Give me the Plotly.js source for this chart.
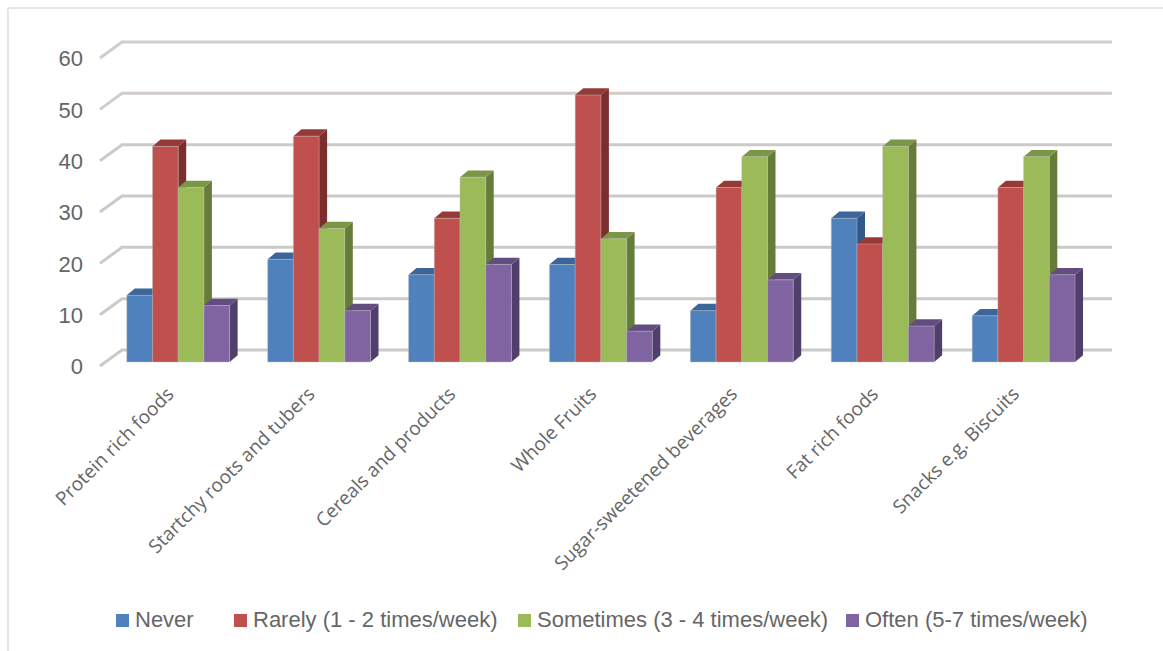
<!DOCTYPE html>
<html>
<head>
<meta charset="utf-8">
<script src="https://cdn.plot.ly/plotly-3.0.1.min.js"></script>
<style>html,body{margin:0;padding:0;background:#fff;overflow:hidden}</style>
</head>
<body>
<div id="chart" style="width:1163px;height:651px"></div>
<script>
// Food consumption frequency per food group
const categories = ['Protein rich foods', 'Startchy roots and tubers', 'Cereals and products', 'Whole Fruits',
  'Sugar-sweetened beverages', 'Fat rich foods', 'Snacks e.g. Biscuits'];
const seriesNames = ['Never', 'Rarely (1 - 2 times/week)', 'Sometimes (3 - 4 times/week)', 'Often (5-7 times/week)'];
const never = [13, 20, 17, 19, 10, 28, 9];
const rarely = [42, 44, 28, 52, 34, 23, 34];
const sometimes = [34, 26, 36, 24, 40, 42, 40];
const often = [11, 10, 19, 6, 16, 7, 17];
const yTicks = [0, 10, 20, 30, 40, 50, 60];

const frontColors = ['#4F81BD', '#C0504D', '#9BBB59', '#8064A2'];
const topColors = ['#3C659A', '#943A37', '#7C9648', '#634D80'];
const sideColors = ['#33598A', '#7A2F2D', '#667D3A', '#513F6B'];

const W = 1163, H = 651;
const plot = {l: 90, r: 1120, t: 30, b: 375};
const pxPerCat = 140.9, cat0Px = 178.2;     // horizontal scale of the category axis
const pxPerUnit = 5.133, zeroPx = 362;      // vertical scale of the value axis
const xRange = [(plot.l - cat0Px) / pxPerCat, (plot.r - cat0Px) / pxPerCat];
const yRange = [(zeroPx - plot.b) / pxPerUnit, (zeroPx - plot.t) / pxPerUnit];
const xUnits = px => px / pxPerCat;
const yUnits = px => px / pxPerUnit;

const bargap = 0.27;
const barW = (1 - bargap) / 4;
const depthX = xUnits(8), depthY = yUnits(6.8);  // extrusion of each column
const allSeries = [never, rarely, sometimes, often];

// Paper-space helpers for the frame and the legend row
const px = x => (x - plot.l) / (plot.r - plot.l);
const py = y => (plot.b - y) / (plot.b - plot.t);

const shapes = [];
const poly = (pts, color) => shapes.push({
  type: 'path', xref: 'x', yref: 'y', layer: 'below',
  path: 'M' + pts.map(p => p[0] + ',' + p[1]).join('L') + 'Z',
  fillcolor: color, line: {width: 0}
});

// Frame on the top and left edges
[[8, 8, W, 8], [8, 8, 8, H]].forEach(s => shapes.push({
  type: 'line', xref: 'paper', yref: 'paper', layer: 'below',
  x0: px(s[0]), y0: py(s[1]), x1: px(s[2]), y1: py(s[3]),
  line: {color: '#e6e6e6', width: 2}
}));

// Back-wall gridlines with the slanted stub leading to each tick label
const wallY = yUnits(12), stubDrop = yUnits(4);
const wallLeft = xRange[0] + xUnits(122 - plot.l), wallRight = xRange[0] + xUnits(1112 - plot.l);
const stubLeft = xRange[0] + xUnits(100 - plot.l);
yTicks.forEach((v, k) => {
  const color = k >= 5 ? '#d2cccb' : '#cacac8';
  shapes.push({
    type: 'path', xref: 'x', yref: 'y', layer: 'below',
    path: `M${stubLeft},${v - stubDrop}L${wallLeft},${v + wallY}L${wallRight},${v + wallY}`,
    line: {color, width: 3}, fillcolor: 'rgba(0,0,0,0)'
  });
});

// Column sides and tops, series by series, behind the front faces
allSeries.forEach((values, j) => {
  values.forEach((v, i) => {
    const left = i + (j - 2) * barW, right = left + barW;
    poly([[right, 0], [right + depthX, depthY], [right + depthX, v + depthY], [right, v]], sideColors[j]);
    poly([[left, v], [left + depthX, v + depthY], [right + depthX, v + depthY], [right, v]], topColors[j]);
  });
});

// Legend row
const legendSwatchX = [116, 234, 518, 846];
const annotations = seriesNames.map((name, j) => {
  shapes.push({
    type: 'rect', xref: 'paper', yref: 'paper', layer: 'above',
    x0: px(legendSwatchX[j]), x1: px(legendSwatchX[j] + 13), y0: py(627), y1: py(614),
    fillcolor: frontColors[j], line: {width: 0}
  });
  return {
    text: name, xref: 'paper', yref: 'paper', showarrow: false,
    x: px(legendSwatchX[j] + 18.5), y: py(619.5), xanchor: 'left', yanchor: 'middle',
    borderpad: 0, borderwidth: 0,
    font: {family: '"Liberation Sans", Arial, sans-serif', size: 22, color: '#666666'}
  };
});

const traces = allSeries.map((values, j) => ({
  type: 'bar', name: seriesNames[j], x: categories, y: values,
  marker: {color: frontColors[j], line: {color: 'rgba(190,190,190,0.55)', width: 0.8}},
  showlegend: false
}));

Plotly.newPlot('chart', traces, {
  width: W, height: H,
  margin: {l: plot.l, r: W - plot.r, t: plot.t, b: H - plot.b, pad: 0},
  paper_bgcolor: '#ffffff', plot_bgcolor: 'rgba(0,0,0,0)',
  showlegend: false,
  barmode: 'group', bargap, bargroupgap: 0,
  xaxis: {
    type: 'category', range: xRange, autorange: false, showgrid: false, zeroline: false, showline: false,
    ticks: '', tickangle: -45, ticklabelstandoff: 3, ticklabelshift: -10,
    tickfont: {family: '"Open Sans", sans-serif', size: 19, color: '#666666'}
  },
  yaxis: {
    range: yRange, autorange: false, showgrid: false, zeroline: false, showline: false,
    ticks: '', tickmode: 'array',
    tickvals: yTicks.map(v => v - yUnits(4.5)), ticktext: yTicks.map(String),
    ticklabelstandoff: 6,
    tickfont: {family: '"Liberation Sans", Arial, sans-serif', size: 22, color: '#666666'}
  },
  shapes, annotations
}, {displayModeBar: false, responsive: false});
</script>
</body>
</html>
